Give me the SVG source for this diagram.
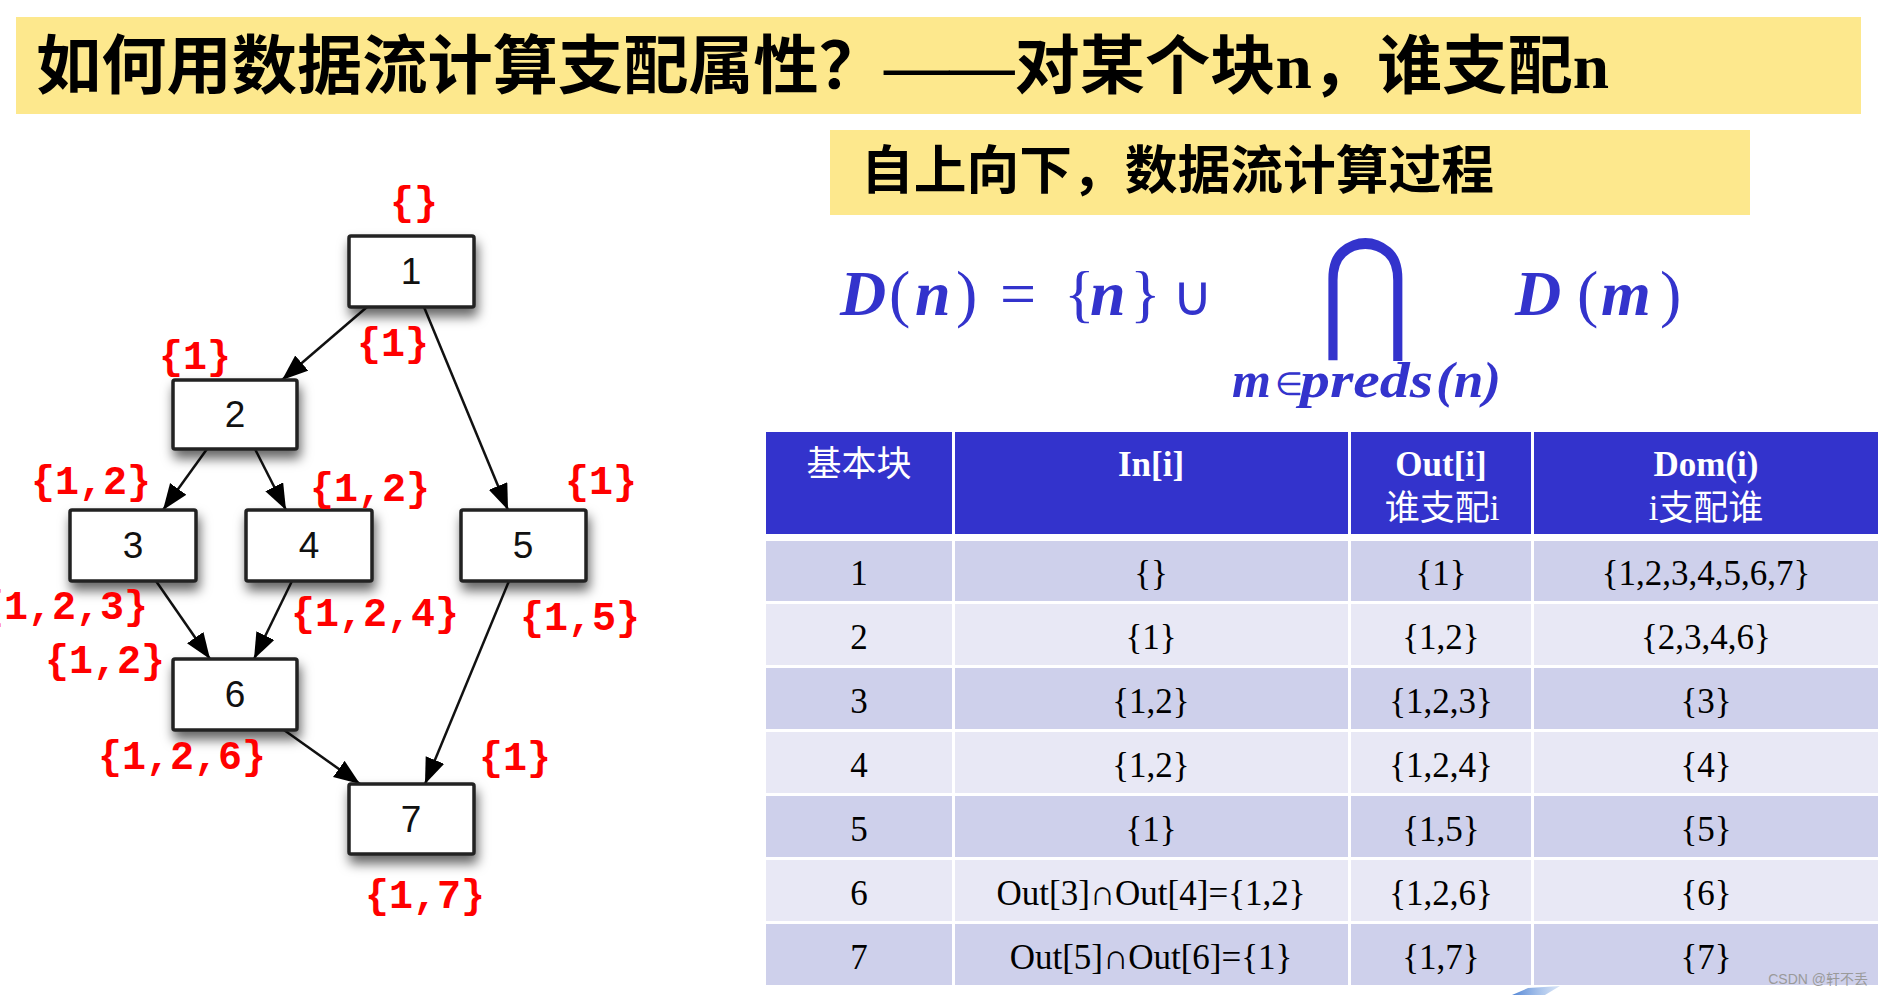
<svg xmlns="http://www.w3.org/2000/svg" width="1883" height="995" viewBox="0 0 1883 995">
<defs>
<style>
.band{fill:#FDE88D}
.ttl{font-family:"Liberation Serif","Noto Sans CJK SC",serif;font-weight:bold;fill:#000}
.box{fill:#fff;stroke:#222;stroke-width:3.5}
.num{font-family:"Liberation Sans",Arial,sans-serif;font-size:37px;fill:#111;text-anchor:middle}
.edge{stroke:#111;stroke-width:2.5;fill:none;marker-end:url(#arr)}
.lbl{font-family:"Liberation Mono","Courier New",monospace;font-weight:bold;font-size:40px;fill:#FF0000;text-anchor:middle}
.fm{font-family:"Liberation Serif",serif;fill:#3333CC}
.bi{font-weight:bold;font-style:italic}
.hd{fill:#3333CC}
.r1{fill:#CED0EB}
.r2{fill:#E8E8F5}
.hdt{font-family:"Liberation Serif","Noto Sans CJK SC",serif;font-size:35px;fill:#fff;text-anchor:middle}
.cell{font-family:"Liberation Serif",serif;font-size:35px;fill:#000;text-anchor:middle}
.wm{font-family:"Liberation Sans","Noto Sans CJK SC",sans-serif;font-size:14px;fill:#9a9a9a;text-anchor:end}
</style>
<marker id="arr" markerUnits="userSpaceOnUse" markerWidth="28" markerHeight="22" refX="26" refY="10" orient="auto">
<path d="M0,0 L26,10 L0,20 z" fill="#000"/>
</marker>
<filter id="sh" x="-30%" y="-30%" width="160%" height="180%">
<feDropShadow dx="2" dy="8" stdDeviation="6" flood-color="#000" flood-opacity="0.6"/>
</filter>
<linearGradient id="bl" x1="0" y1="0" x2="1" y2="0">
<stop offset="0" stop-color="#3F78D0" stop-opacity="0.9"/>
<stop offset="1" stop-color="#7FA7E3" stop-opacity="0.3"/>
</linearGradient>
</defs>
<rect width="1883" height="995" fill="#fff"/>

<g id="title">
<rect class="band" x="16" y="17" width="1845" height="97"/>
<text class="ttl" x="36" y="88" font-size="64" textLength="1573" lengthAdjust="spacingAndGlyphs">如何用数据流计算支配属性？——对某个块n，谁支配n</text>
</g>

<g id="subtitle">
<rect class="band" x="830" y="130" width="920" height="85"/>
<text class="ttl" x="861" y="189" font-size="52" textLength="633" lengthAdjust="spacingAndGlyphs">自上向下，数据流计算过程</text>
</g>

<g id="formula">
<text class="fm" y="315" font-size="64"><tspan class="bi" x="840">D</tspan><tspan x="889">(</tspan><tspan class="bi" x="915">n</tspan><tspan x="956">)</tspan><tspan x="1000">=</tspan><tspan x="1064">{</tspan><tspan class="bi" x="1090">n</tspan><tspan x="1130">}</tspan></text>
<text class="fm" x="1192" y="315" font-size="56" text-anchor="middle" font-family="DejaVu Sans">∪</text>
<text class="fm" x="0" y="0" font-size="100" text-anchor="middle" font-family="DejaVu Sans" transform="translate(1365,335) scale(1.08,1.337)">⋂</text>
<text class="fm" y="315" font-size="64"><tspan class="bi" x="1515">D</tspan><tspan x="1577">(</tspan><tspan class="bi" x="1601">m</tspan><tspan x="1660">)</tspan></text>
<text class="fm bi" x="1232" y="397" font-size="50">m</text>
<text class="fm" x="1275" y="395" font-size="32" font-family="DejaVu Sans">∈</text>
<text class="fm bi" x="1300" y="397" font-size="50" textLength="133" lengthAdjust="spacingAndGlyphs">preds</text>
<text class="fm bi" x="1436" y="397" font-size="50" textLength="65" lengthAdjust="spacingAndGlyphs">(n)</text>
</g>

<g id="connectors">
<line class="edge" x1="367" y1="307" x2="282" y2="380"/>
<line class="edge" x1="424" y1="307" x2="508" y2="510"/>
<line class="edge" x1="207" y1="449" x2="163" y2="510"/>
<line class="edge" x1="255" y1="449" x2="286" y2="510"/>
<line class="edge" x1="156" y1="581" x2="210" y2="659"/>
<line class="edge" x1="292" y1="581" x2="254" y2="659"/>
<line class="edge" x1="509" y1="581" x2="425" y2="784"/>
<line class="edge" x1="284" y1="730" x2="360" y2="784"/>
</g>

<g id="node-1"><rect class="box" filter="url(#sh)" x="349" y="236" width="125" height="71" rx="2"/><text class="num" x="411" y="284">1</text></g>
<g id="node-2"><rect class="box" filter="url(#sh)" x="173" y="380" width="124" height="69" rx="2"/><text class="num" x="235" y="427">2</text></g>
<g id="node-3"><rect class="box" filter="url(#sh)" x="70" y="510" width="126" height="71" rx="2"/><text class="num" x="133" y="558">3</text></g>
<g id="node-4"><rect class="box" filter="url(#sh)" x="246" y="510" width="126" height="71" rx="2"/><text class="num" x="309" y="558">4</text></g>
<g id="node-5"><rect class="box" filter="url(#sh)" x="461" y="510" width="125" height="71" rx="2"/><text class="num" x="523" y="558">5</text></g>
<g id="node-6"><rect class="box" filter="url(#sh)" x="173" y="659" width="124" height="71" rx="2"/><text class="num" x="235" y="707">6</text></g>
<g id="node-7"><rect class="box" filter="url(#sh)" x="349" y="784" width="125" height="70" rx="2"/><text class="num" x="411" y="832">7</text></g>

<g id="labels">
<text class="lbl" x="414" y="215">{}</text>
<text class="lbl" x="393" y="356">{1}</text>
<text class="lbl" x="195" y="369">{1}</text>
<text class="lbl" x="91" y="494">{1,2}</text>
<text class="lbl" x="370" y="501">{1,2}</text>
<text class="lbl" x="601" y="494">{1}</text>
<text class="lbl" x="-20" y="619" style="text-anchor:start">{1,2,3}</text>
<text class="lbl" x="375" y="626">{1,2,4}</text>
<text class="lbl" x="580" y="630">{1,5}</text>
<text class="lbl" x="105" y="673">{1,2}</text>
<text class="lbl" x="182" y="769">{1,2,6}</text>
<text class="lbl" x="515" y="770">{1}</text>
<text class="lbl" x="425" y="908">{1,7}</text>
</g>

<g id="table">
<rect class="hd" x="766" y="432" width="1112" height="102"/>
<rect class="r1" x="766" y="541" width="1112" height="60"/>
<rect class="r2" x="766" y="604" width="1112" height="61"/>
<rect class="r1" x="766" y="668" width="1112" height="61"/>
<rect class="r2" x="766" y="732" width="1112" height="61"/>
<rect class="r1" x="766" y="796" width="1112" height="61"/>
<rect class="r2" x="766" y="860" width="1112" height="61"/>
<rect class="r1" x="766" y="924" width="1112" height="61"/>
<g fill="#fff">
<rect x="952" y="432" width="3" height="553"/>
<rect x="1348" y="432" width="3" height="553"/>
<rect x="1531" y="432" width="3" height="553"/>
</g>
<text class="hdt" x="859" y="476">基本块</text>
<text class="hdt" x="1151" y="476" font-weight="bold">In[i]</text>
<text class="hdt" x="1441" y="476" font-weight="bold">Out[i]</text>
<text class="hdt" x="1442" y="520">谁支配i</text>
<text class="hdt" x="1706" y="476" font-weight="bold">Dom(i)</text>
<text class="hdt" x="1706" y="520">i支配谁</text>

<text class="cell" x="859" y="585">1</text><text class="cell" x="1151" y="585">{}</text><text class="cell" x="1441" y="585">{1}</text><text class="cell" x="1706" y="585">{1,2,3,4,5,6,7}</text>
<text class="cell" x="859" y="649">2</text><text class="cell" x="1151" y="649">{1}</text><text class="cell" x="1441" y="649">{1,2}</text><text class="cell" x="1706" y="649">{2,3,4,6}</text>
<text class="cell" x="859" y="713">3</text><text class="cell" x="1151" y="713">{1,2}</text><text class="cell" x="1441" y="713">{1,2,3}</text><text class="cell" x="1706" y="713">{3}</text>
<text class="cell" x="859" y="777">4</text><text class="cell" x="1151" y="777">{1,2}</text><text class="cell" x="1441" y="777">{1,2,4}</text><text class="cell" x="1706" y="777">{4}</text>
<text class="cell" x="859" y="841">5</text><text class="cell" x="1151" y="841">{1}</text><text class="cell" x="1441" y="841">{1,5}</text><text class="cell" x="1706" y="841">{5}</text>
<text class="cell" x="859" y="905">6</text><text class="cell" x="1151" y="905">Out[3]∩Out[4]={1,2}</text><text class="cell" x="1441" y="905">{1,2,6}</text><text class="cell" x="1706" y="905">{6}</text>
<text class="cell" x="859" y="969">7</text><text class="cell" x="1151" y="969">Out[5]∩Out[6]={1}</text><text class="cell" x="1441" y="969">{1,7}</text><text class="cell" x="1706" y="969">{7}</text>
</g>

<text class="wm" x="1868" y="984">CSDN @轩不丢</text>
<polygon points="1512,995 1528,988 1560,986 1545,995" fill="url(#bl)"/>
</svg>
